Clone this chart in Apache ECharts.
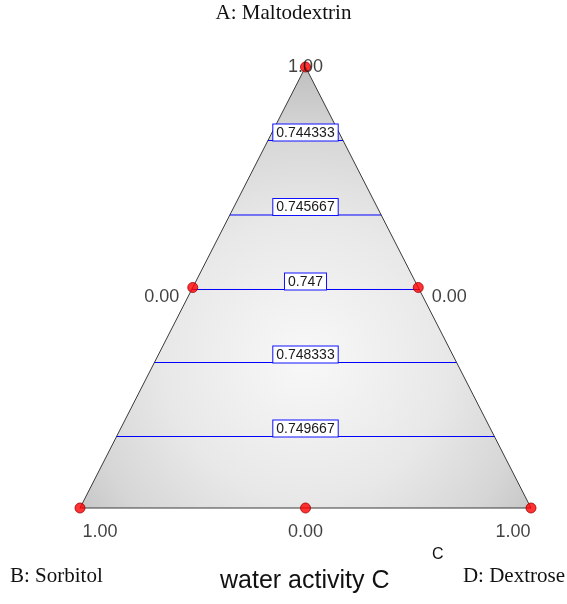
<!DOCTYPE html>
<html>
<head>
<meta charset="utf-8">
<script src="https://cdn.jsdelivr.net/npm/echarts@6/dist/echarts.min.js"></script>
<style>
  html, body { margin: 0; padding: 0; background: #ffffff; }
  #chart { width: 567px; height: 604px; }
</style>
</head>
<body>
<div id="chart"></div>
<script>
// Simplex region: x runs from B (0) to D (1), y is the A proportion (0 at the base, 1 at the apex).
const triangleVertices = [[0.5, 1], [0, 0], [1, 0]];

// Design points of the mixture experiment (vertices and edge midpoints).
const designPoints = [[0.5, 1], [0.25, 0.5], [0.75, 0.5], [0, 0], [0.5, 0], [1, 0]];

// Component value labels printed at the design points.
const vertexLabelText = ['1.00', '0.00', '0.00', '1.00', '0.00', '1.00'];

// Contour levels of water activity and the A proportion where each level lies.
const contourLevels = ['0.744333', '0.745667', '0.747', '0.748333', '0.749667'];
const contourHeights = [0.8333, 0.6644, 0.4955, 0.3299, 0.1621];

const contourColor = '#0000ff';

const chart = echarts.init(document.getElementById('chart'));

// Contours: one horizontal segment per level, clipped to the triangle sides,
// with the level value boxed at the centre just above the segment.
const contourSeries = {
  type: 'custom',
  silent: true,
  z: 3,
  data: contourHeights.map(function (h, i) { return [h, i]; }),
  renderItem: function (params, api) {
    const h = api.value(0);
    const p0 = api.coord([h / 2, h]);
    const p1 = api.coord([1 - h / 2, h]);
    const mid = api.coord([0.5, h]);
    return {
      type: 'group',
      children: [
        {
          type: 'line',
          shape: { x1: p0[0], y1: p0[1], x2: p1[0], y2: p1[1] },
          style: { stroke: contourColor, lineWidth: 1 }
        },
        {
          type: 'text',
          x: mid[0],
          y: mid[1],
          style: {
            text: contourLevels[api.value(1)],
            font: '14px Arial, "Liberation Sans", sans-serif',
            fill: '#1a1a1a',
            align: 'center',
            verticalAlign: 'bottom',
            backgroundColor: '#ffffff',
            borderColor: '#1010ff',
            borderWidth: 1,
            padding: [1, 3, 0, 3],
            lineHeight: 15
          }
        }
      ]
    };
  }
};

// Offsets of the value labels relative to their design point, in pixels.
const labelOffsets = [[0, 0], [-31, 10], [31, 10], [20, 24], [0, 24], [-18, 24]];

const pointSeries = {
  type: 'scatter',
  z: 6,
  symbolSize: 10,
  itemStyle: { color: '#ff0000', borderColor: '#a00000', borderWidth: 1 },
  data: designPoints.map(function (p, i) {
    return {
      value: p,
      label: {
        show: true,
        formatter: vertexLabelText[i],
        position: 'inside',
        offset: labelOffsets[i]
      }
    };
  }),
  label: {
    fontFamily: 'Arial, "Liberation Sans", sans-serif',
    fontSize: 18,
    color: '#111111'
  }
};

const triangleSeries = {
  type: 'custom',
  silent: true,
  z: 1,
  data: [0],
  renderItem: function (params, api) {
    const pts = triangleVertices.map(function (v) { return api.coord(v); });
    return {
      type: 'polygon',
      shape: { points: pts },
      style: {
        fill: new echarts.graphic.RadialGradient(0.5, 0.66, 0.64, [
          { offset: 0, color: '#f8f8f8' },
          { offset: 0.5, color: '#e8e8e8' },
          { offset: 0.8, color: '#d6d6d6' },
          { offset: 1, color: '#c2c2c2' }
        ]),
        stroke: '#3a3a3a',
        lineWidth: 1
      }
    };
  }
};

const serifFont = '"Liberation Serif", "Times New Roman", serif';
const sansFont = 'Arial, "Liberation Sans", sans-serif';

chart.setOption({
  animation: false,
  backgroundColor: '#ffffff',
  grid: { left: 80, right: 36, top: 67, bottom: 96 },
  xAxis: { type: 'value', min: 0, max: 1, show: false },
  yAxis: { type: 'value', min: 0, max: 1, show: false },
  graphic: [
    { type: 'text', left: 'center', top: 3,
      style: { text: 'A: Maltodextrin', font: '21px ' + serifFont, fill: '#111111' } },
    { type: 'text', left: 10, top: 566,
      style: { text: 'B: Sorbitol', font: '21px ' + serifFont, fill: '#111111' } },
    { type: 'text', right: 2, top: 566,
      style: { text: 'D: Dextrose', font: '21px ' + serifFont, fill: '#111111' } },
    { type: 'text', left: 432, top: 547,
      style: { text: 'C', font: '16px ' + sansFont, fill: '#111111' } },
    { type: 'text', left: 220, top: 569,
      style: { text: 'water activity C', font: '25px ' + sansFont, fill: '#111111' } }
  ],
  series: [triangleSeries, contourSeries, pointSeries]
});
</script>
</body>
</html>
